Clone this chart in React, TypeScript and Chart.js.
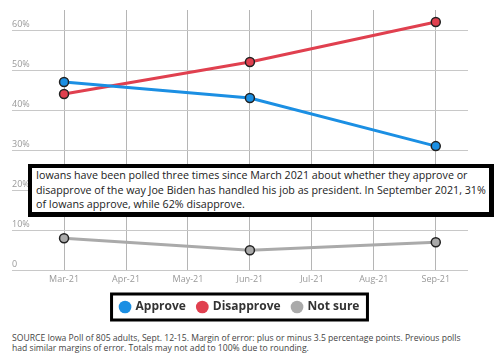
import React, { useEffect, useRef } from "react";
import { Chart, registerables } from "chart.js";

Chart.register(...registerables);

const monthLabels = ["Mar-21", "Apr-21", "May-21", "Jun-21", "Jul-21", "Aug-21", "Sep-21"];
const pollMonthIndex = [0, 3, 6];
const approve = [47, 43, 31];
const disapprove = [44, 52, 62];
const notSure = [8, 5, 7];
const yTicks = [0, 10, 20, 30, 40, 50, 60];

const seriesNames = ["Approve", "Disapprove", "Not sure"];
const seriesColors = ["#1b8fe3", "#e0404f", "#aaaaaa"];

const note = [
  "Iowans have been polled three times since March 2021 about whether they approve or",
  "disapprove of the way Joe Biden has handled his job as president. In September 2021, 31%",
  "of Iowans approve, while 62% disapprove.",
];
const source = [
  "SOURCE Iowa Poll of 805 adults, Sept. 12-15. Margin of error: plus or minus 3.5 percentage points. Previous polls",
  "had similar margins of error. Totals may not add to 100% due to rounding.",
];

const legendBox = {
  id: "legendBox",
  afterDraw(chart: any) {
    const boxes = chart.legend?.legendHitBoxes;
    if (!boxes || !boxes.length) return;
    const first = boxes[0];
    const last = boxes[boxes.length - 1];
    const ctx = chart.ctx;
    ctx.save();
    ctx.strokeStyle = "#000";
    ctx.lineWidth = 3;
    const x0 = first.left - 9;
    const x1 = last.left + last.width + 8;
    const y0 = first.top - 7;
    const y1 = first.top + first.height + 7;
    ctx.strokeRect(x0, y0, x1 - x0, y1 - y0);
    ctx.restore();
  },
};

export default function App() {
  const ref = useRef<HTMLCanvasElement>(null);
  useEffect(() => {
    if (!ref.current) return;
    const mk = (vals: number[]) => vals.map((v, i) => ({ x: pollMonthIndex[i], y: v }));
    const data = [approve, disapprove, notSure];
    const chart = new Chart(ref.current, {
      type: "line",
      data: {
        datasets: data.map((vals, i) => ({
          label: seriesNames[i],
          data: mk(vals),
          borderColor: seriesColors[i],
          backgroundColor: seriesColors[i],
          pointBackgroundColor: seriesColors[i],
          pointBorderColor: "#222",
          pointBorderWidth: 1.5,
          pointRadius: 4.5,
          borderWidth: 3,
          tension: 0,
        })),
      },
      options: {
        animation: false,
        responsive: true,
        maintainAspectRatio: false,
        layout: { padding: { left: 12, right: 32, top: 10, bottom: 4 } },
        plugins: {
          tooltip: { enabled: false },
          legend: {
            position: "bottom",
            labels: {
              usePointStyle: true,
              pointStyle: "circle",
              boxWidth: 9,
              boxHeight: 9,
              padding: 12,
              color: "#333",
              font: { family: "'Open Sans', sans-serif", size: 12, weight: "bold" },
              generateLabels: (c: any) =>
                c.data.datasets.map((d: any, i: number) => ({
                  text: d.label,
                  fillStyle: seriesColors[i],
                  strokeStyle: seriesColors[i],
                  lineWidth: 0,
                  pointStyle: "circle",
                  datasetIndex: i,
                  fontColor: "#333",
                })),
            },
          },
        },
        scales: {
          x: {
            type: "linear",
            min: -0.84,
            max: 6.52,
            grid: { color: "#b5b5b5", drawTicks: false },
            border: { display: false },
            ticks: {
              stepSize: 1,
              includeBounds: false,
              padding: 4,
              color: "#999",
              font: { family: "'Open Sans', sans-serif", size: 9 },
              callback: (v: any) => monthLabels[v] ?? "",
            },
          },
          y: {
            min: 0,
            max: 65,
            afterBuildTicks: (s: any) => {
              s.ticks = yTicks.map((v) => ({ value: v }));
            },
            grid: { color: "#c8c8c8", drawTicks: false },
            border: { display: false },
            ticks: {
              mirror: true,
              padding: 0,
              labelOffset: -6,
              color: "#999",
              font: { family: "'Open Sans', sans-serif", size: 9 },
              callback: (v: any) => (v === 0 ? "0" : v + "%"),
            },
          },
        },
      },
      plugins: [legendBox],
    });
    return () => chart.destroy();
  }, []);

  return (
    <div style={{ position: "absolute", left: 0, top: 0, width: 500, height: 357, background: "#fff", fontFamily: "'Open Sans', sans-serif" }}>
      <div style={{ position: "absolute", left: 0, top: 0, width: 500, height: 327 }}>
        <canvas ref={ref} />
      </div>
      <div
        style={{
          position: "absolute",
          left: 28,
          top: 164,
          width: 466,
          height: 53,
          boxSizing: "border-box",
          border: "4px solid #000",
          borderRightWidth: 5,
          borderBottomWidth: 5,
          background: "#fff",
          padding: "0 0 0 4px",
          fontSize: 10.7,
          lineHeight: "14.5px",
          color: "#222",
          whiteSpace: "nowrap",
          overflow: "hidden",
        }}
      >
        {note.map((l, i) => (
          <div key={i}>{l}</div>
        ))}
      </div>
      <div style={{ position: "absolute", left: 12, top: 333, fontSize: 8.6, lineHeight: "10px", color: "#444", whiteSpace: "nowrap" }}>
        {source.map((l, i) => (
          <div key={i}>{l}</div>
        ))}
      </div>
    </div>
  );
}
